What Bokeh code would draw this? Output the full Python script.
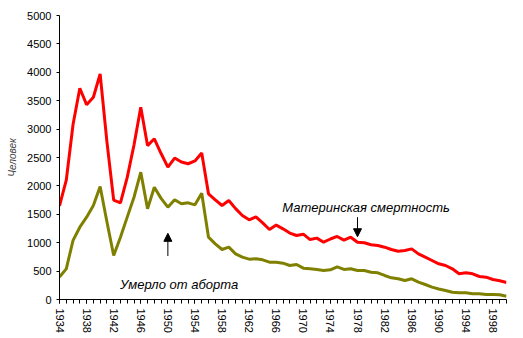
from bokeh.plotting import figure
from bokeh.models import Range1d, FixedTicker, Label, Arrow, NormalHead
from bokeh.embed import file_html
from bokeh.resources import INLINE

years = list(range(1934, 2001))
maternal = [1650, 2100, 3080, 3720, 3430, 3560, 3970, 2780, 1750, 1700, 2150, 2720, 3385, 2710, 2830,
            2570, 2330, 2490, 2420, 2390, 2440, 2580, 1860, 1755, 1655, 1743, 1600, 1480, 1403,
            1455, 1350, 1232, 1310, 1244, 1170, 1127, 1150, 1055, 1080, 1009, 1065, 1110, 1045,
            1097, 1009, 998, 963, 950, 921, 880, 850, 862, 892, 804, 745, 687, 628, 599, 540,
            455, 470, 452, 405, 393, 352, 329, 300]
abortion = [395, 540, 1040, 1273, 1450, 1655, 1990, 1370, 775, 1097, 1450, 1800, 2241, 1596, 1977,
            1780, 1625, 1755, 1685, 1702, 1667, 1872, 1097, 980, 880, 921, 804, 745, 710,
            716, 698, 657, 657, 640, 598, 616, 552, 540, 528, 511, 523, 575, 530,
            540, 510, 510, 481, 470, 423, 382, 364, 334, 364, 305, 264, 217, 185, 158, 129,
            118, 118, 100, 100, 88, 88, 82, 58]
x_ticks = list(range(1934, 2001, 4))
y_ticks = list(range(0, 5001, 500))

label_maternal = "Материнская смертность"
label_abortion = "Умерло от аборта"
y_title = "Человек"

p = figure(width=523, height=338, output_backend="svg", toolbar_location=None,
           x_range=Range1d(1934, 2000), y_range=Range1d(0, 5000),
           min_border_left=59, min_border_right=17, min_border_top=15, min_border_bottom=39)
p.outline_line_color = None
p.xgrid.grid_line_color = None
p.ygrid.grid_line_color = None
p.background_fill_color = "white"
p.border_fill_color = "white"

p.line(years, maternal, line_color="#FF0000", line_width=3)
p.line(years, abortion, line_color="#808000", line_width=3)

p.xaxis.ticker = FixedTicker(ticks=x_ticks, minor_ticks=years)
p.yaxis.ticker = FixedTicker(ticks=y_ticks, minor_ticks=[])
p.xaxis.major_label_orientation = "vertical"
for ax in (p.xaxis, p.yaxis):
    ax.axis_line_color = "black"
    ax.axis_line_width = 1
    ax.major_tick_line_color = "black"
    ax.minor_tick_line_color = "black"
    ax.major_tick_in = 0
    ax.minor_tick_in = 0
    ax.major_label_text_font = "Liberation Sans"
    ax.major_label_text_font_size = "11px"
    ax.major_label_text_color = "black"
p.xaxis.major_tick_out = 4
p.xaxis.minor_tick_out = 4
p.xaxis.major_label_standoff = 5
p.yaxis.major_tick_out = 3
p.yaxis.major_label_standoff = 5
p.yaxis.axis_label = y_title
p.yaxis.axis_label_text_font = "Liberation Sans"
p.yaxis.axis_label_text_font_style = "italic"
p.yaxis.axis_label_text_font_size = "10px"
p.yaxis.axis_label_standoff = 6

p.add_layout(Label(x=1966.9, y=1625, text=label_maternal, text_font="Liberation Sans",
                   text_font_style="italic", text_font_size="13px", text_color="black",
                   text_baseline="alphabetic"))
p.add_layout(Label(x=1942.95, y=264, text=label_abortion, text_font="Liberation Sans",
                   text_font_style="italic", text_font_size="13px", text_color="black",
                   text_baseline="alphabetic"))

p.add_layout(Arrow(x_start=1978, y_start=1450, x_end=1978, y_end=1105, line_width=1,
                   line_color="black",
                   end=NormalHead(size=8, fill_color="black", line_color="black")))
p.add_layout(Arrow(x_start=1950, y_start=766, x_end=1950, y_end=1165, line_width=1,
                   line_color="black",
                   end=NormalHead(size=8, fill_color="black", line_color="black")))

open("out.html", "w").write(file_html(p, INLINE))
